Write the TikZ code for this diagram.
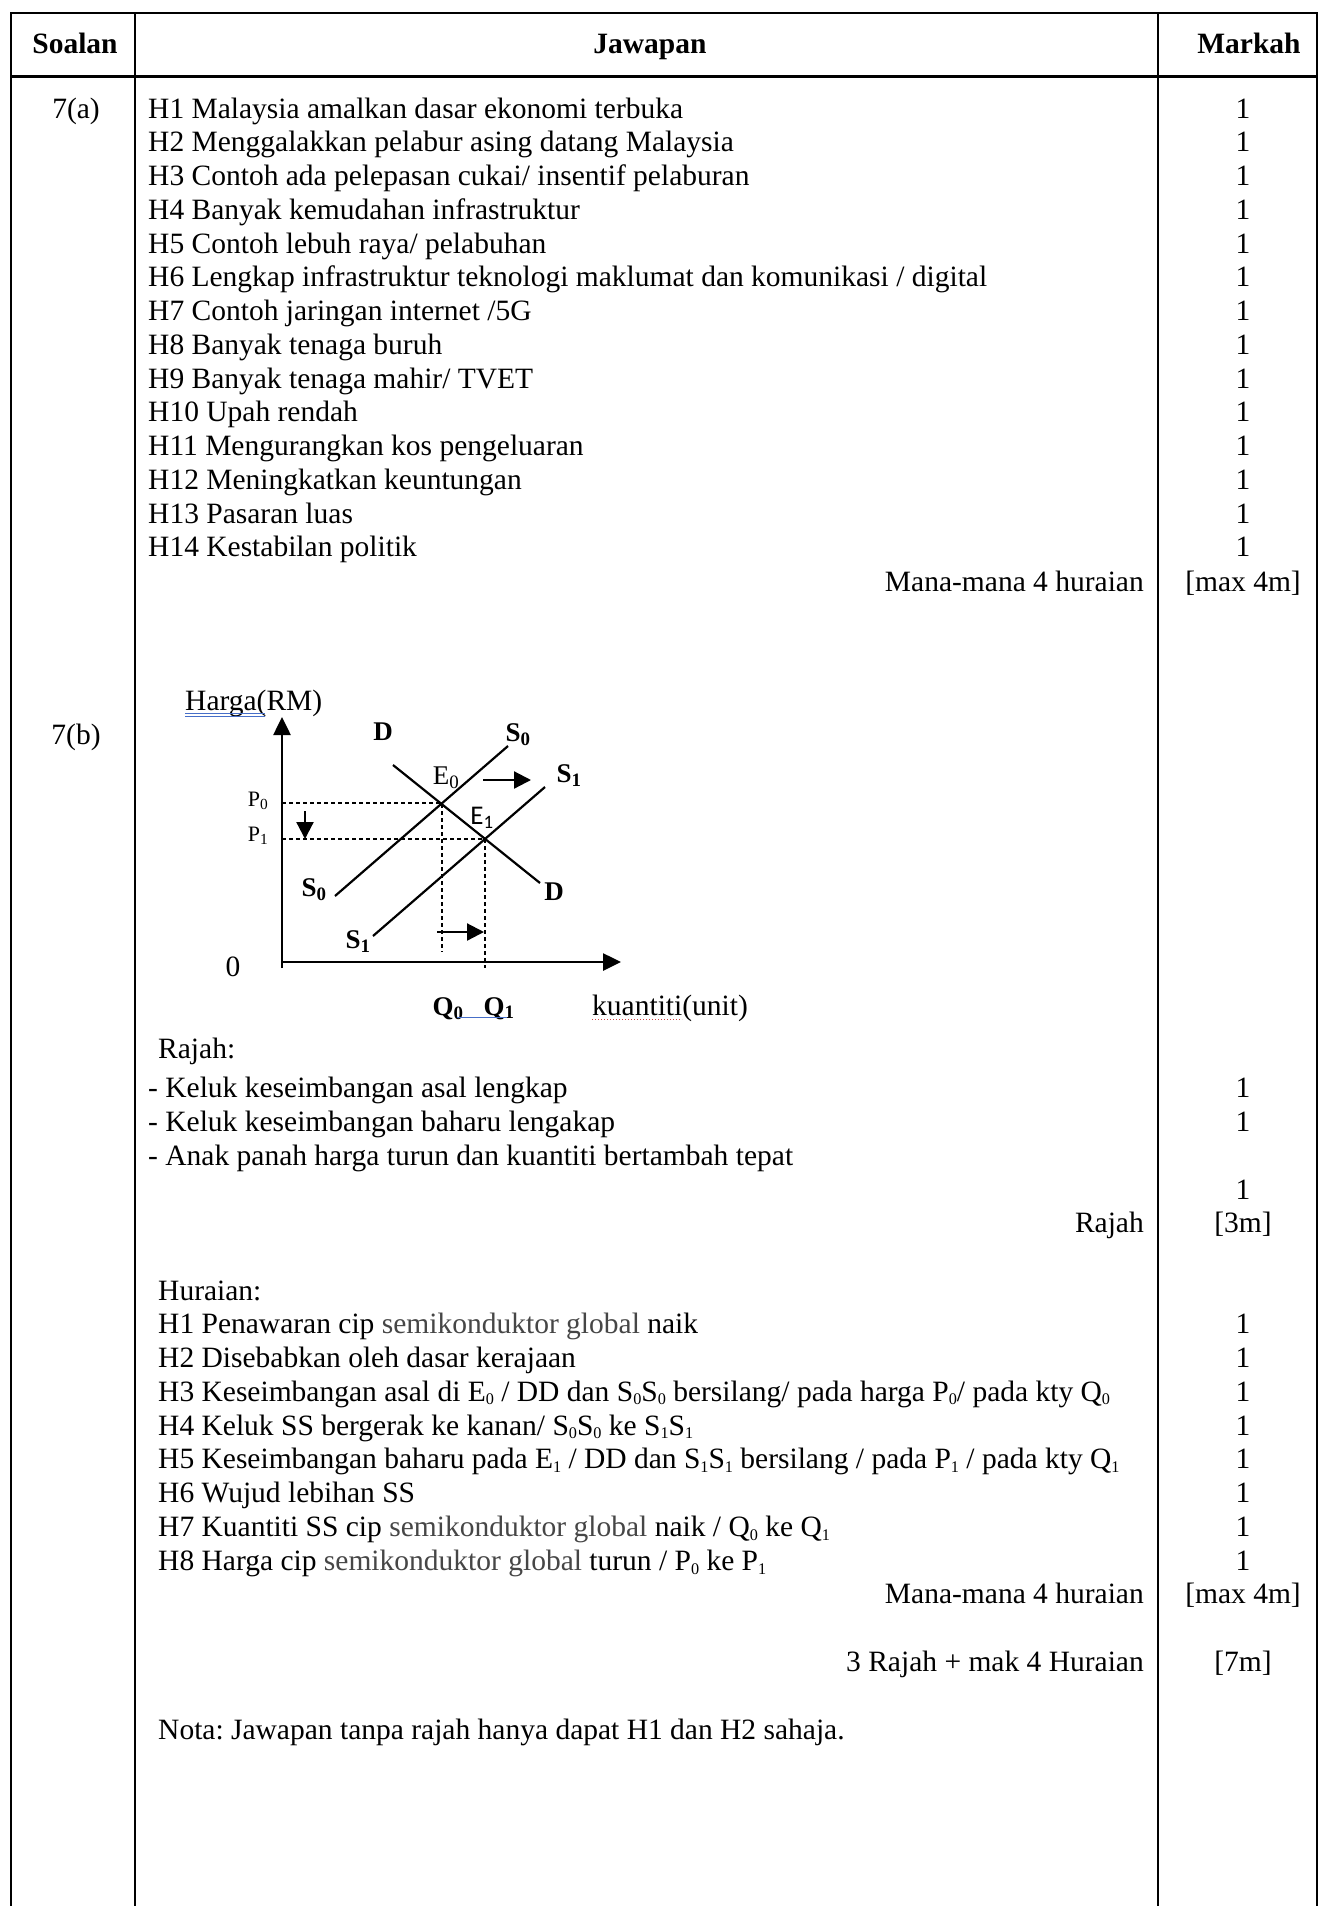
\documentclass[tikz,border=0pt]{standalone}
\usepackage{fontspec}
\usepackage{graphicx}
\setmainfont{Liberation Serif}
\newfontfamily\calibri{Carlito}
\usetikzlibrary{arrows.meta}
\frenchspacing

\definecolor{greytext}{RGB}{70,70,70}
\definecolor{proofblue}{RGB}{70,110,200}
\definecolor{proofred}{RGB}{205,70,70}
\newcommand{\subn}[1]{\textsubscript{#1}}
\newcommand{\lowsub}[1]{\raisebox{-0.12em}{\scalebox{0.55}{#1}}}
\newcommand{\semi}{\textcolor{greytext}{semikonduktor global}}

\begin{document}
\begin{tikzpicture}[x=1pt,y=-1pt,
	txt/.style={font=\fontsize{29.5}{34}\selectfont, inner sep=0pt},
	head/.style={font=\fontsize{29.5}{34}\selectfont\bfseries, inner sep=0pt},
	lbl/.style={font=\fontsize{27}{30}\selectfont\bfseries, inner sep=0pt},
	small/.style={font=\fontsize{22}{26}\selectfont, inner sep=0pt},
	rule/.style={line width=2.2pt},
	curve/.style={line width=2.2pt},
	axis/.style={line width=2.6pt, -{Triangle[length=18pt,width=17pt]}},
	guide/.style={line width=1.1pt, dash pattern=on 4pt off 3pt},
	shift arrow/.style={line width=2.2pt, -{Triangle[length=17pt,width=17pt]}}]

	\fill[white] (0,0) rectangle (1320,1906);
	\useasboundingbox (0,0) rectangle (1320,1906);

	% table frame
	\draw[rule] (11,1906) -- (11,13) -- (1317,13) -- (1317,1906);
	\draw[rule] (135,13) -- (135,1906);
	\draw[rule] (1158,13) -- (1158,1906);
	\draw[line width=3pt] (11,76) -- (1317,76);

	\node[head, anchor=base] (soalan) at (75,53.5) {Soalan};
	\node[head, anchor=base] (jawapan) at (650,53.5) {Jawapan};
	\node[head, anchor=base] (markah) at (1249,53.5) {Markah};

	% 7(a)
	\node[txt, anchor=base] (q7a) at (76,118) {7(a)};
	\foreach \t [count=\i] in {
		{H1 Malaysia amalkan dasar ekonomi terbuka},
		{H2 Menggalakkan pelabur asing datang Malaysia},
		{H3 Contoh ada pelepasan cukai/ insentif pelaburan},
		{H4 Banyak kemudahan infrastruktur},
		{H5 Contoh lebuh raya/ pelabuhan},
		{H6 Lengkap infrastruktur teknologi maklumat dan komunikasi / digital},
		{H7 Contoh jaringan internet /5G},
		{H8 Banyak tenaga buruh},
		{H9 Banyak tenaga mahir/ TVET},
		{H10 Upah rendah},
		{H11 Mengurangkan kos pengeluaran},
		{H12 Meningkatkan keuntungan},
		{H13 Pasaran luas},
		{H14 Kestabilan politik}}{
		\node[txt, anchor=base west] (a\i) at (148,{84.25+33.75*\i}) {\t};
		\node[txt, anchor=base] (ma\i) at (1243,{84.25+33.75*\i}) {1};
	}
	\node[txt, anchor=base east] (anyA) at (1144,591) {Mana-mana 4 huraian};
	\node[txt, anchor=base] (maxA) at (1243,591) {[max 4m]};

	% 7(b)
	\node[txt, anchor=base] (q7b) at (76,744.5) {7(b)};

	% diagram
	\coordinate (E0) at (442,803);
	\coordinate (E1) at (485,839);
	\coordinate (ybot) at (282,968);
	\coordinate (ytop) at (282,717);
	\coordinate (xbeg) at (281,962);
	\coordinate (xend) at (621,962);
	\draw[axis] (ybot) -- (ytop);
	\draw[axis] (xbeg) -- (xend);

	\coordinate (Da) at (393,765);
	\coordinate (Db) at (540,883);
	\coordinate (S0a) at (335,896);
	\coordinate (S0b) at (508,746);
	\coordinate (S1a) at (373,936);
	\coordinate (S1b) at (545,787);
	\draw[curve] (Da) -- (Db);
	\draw[curve] (S0a) -- (S0b);
	\draw[curve] (S1a) -- (S1b);

	\coordinate (P0y) at (282,803);
	\coordinate (P1y) at (282,839);
	\coordinate (Q0x) at (442,952);
	\coordinate (Q1x) at (485,968);
	\draw[guide] (P0y) -- (E0) -- (Q0x);
	\draw[guide] (P1y) -- (E1) -- (Q1x);

	\coordinate (supA) at (483,780);
	\coordinate (supB) at (531,780);
	\coordinate (prA) at (305,811);
	\coordinate (prB) at (305,839);
	\coordinate (qtyA) at (437,932);
	\coordinate (qtyB) at (484,932);
	\draw[shift arrow] (supA) -- (supB);
	\draw[shift arrow] (prA) -- (prB);
	\draw[shift arrow] (qtyA) -- (qtyB);

	\node[txt, anchor=base west] (harga) at (185,710) {Harga(RM)};
	\draw[proofblue, line width=0.8pt] (185,713.5) -- (265,713.5) (185,716.5) -- (265,716.5);
	\node[lbl] (Dtop) at (383,732) {D};
	\node[lbl] (S0top) at (518,735) {S\subn{0}};
	\node[lbl] (S1top) at (569,776) {S\subn{1}};
	\node[lbl] (Dbot) at (554,892) {D};
	\node[lbl] (S0bot) at (314,890) {S\subn{0}};
	\node[lbl] (S1bot) at (358,942) {S\subn{1}};
	\node[font=\fontsize{27}{30}\selectfont, inner sep=0pt] (E0lbl) at (446,778) {E\subn{0}};
	\node[font=\fontsize{27}{30}\selectfont\calibri, inner sep=0pt] (E1lbl) at (482,818) {E\subn{1}};
	\node[small] (P0lbl) at (258,801) {P\subn{0}};
	\node[small] (P1lbl) at (258,836) {P\subn{1}};
	\node[txt] (zero) at (233,967) {0};
	\node[lbl, anchor=base] (Q0lbl) at (448,1015) {Q\subn{0}};
	\node[lbl, anchor=base] (Q1lbl) at (499,1015) {Q\subn{1}};
	\draw[proofblue, line width=0.8pt] (457,1017) -- (507,1017);
	\node[txt, anchor=base west] (kuantiti) at (592,1015) {kuantiti(unit)};
	\draw[proofred, line width=0.9pt, dash pattern=on 1pt off 2pt] (592,1019) -- (682,1019);

	% rajah
	\node[txt, anchor=base west] (rajah) at (158,1058) {Rajah:};
	\node[txt, anchor=base west] (r1) at (148,1097.5) {- Keluk keseimbangan asal lengkap};
	\node[txt, anchor=base west] (r2) at (148,1131.5) {- Keluk keseimbangan baharu lengakap};
	\node[txt, anchor=base west] (r3) at (148,1165) {- Anak panah harga turun dan kuantiti bertambah tepat};
	\node[txt, anchor=base] (mr1) at (1243,1097.5) {1};
	\node[txt, anchor=base] (mr2) at (1243,1131.5) {1};
	\node[txt, anchor=base] (mr3) at (1243,1199) {1};
	\node[txt, anchor=base east] (rajahT) at (1144,1232.5) {Rajah};
	\node[txt, anchor=base] (maxR) at (1243,1232.5) {[3m]};

	% huraian
	\node[txt, anchor=base west] (huraian) at (158,1300.5) {Huraian:};
	\foreach \t [count=\i] in {
		{H1 Penawaran cip \semi\ naik},
		{H2 Disebabkan oleh dasar kerajaan},
		{H3 Keseimbangan asal di E\lowsub{0} / DD dan S\lowsub{0}S\lowsub{0} bersilang/ pada harga P\lowsub{0}/ pada kty Q\lowsub{0}},
		{H4 Keluk SS bergerak ke kanan/ S\lowsub{0}S\lowsub{0} ke S\lowsub{1}S\lowsub{1}},
		{H5 Keseimbangan baharu pada E\lowsub{1} / DD dan S\lowsub{1}S\lowsub{1} bersilang / pada P\lowsub{1} / pada kty Q\lowsub{1}},
		{H6 Wujud lebihan SS},
		{H7 Kuantiti SS cip \semi\ naik / Q\lowsub{0} ke Q\lowsub{1}},
		{H8 Harga cip \semi\ turun / P\lowsub{0} ke P\lowsub{1}}}{
		\node[txt, anchor=base west] (b\i) at (158,{1299.65+33.85*\i}) {\t};
		\node[txt, anchor=base] (mb\i) at (1243,{1299.65+33.85*\i}) {1};
	}
	\node[txt, anchor=base east] (anyB) at (1144,1603.5) {Mana-mana 4 huraian};
	\node[txt, anchor=base] (maxB) at (1243,1603.5) {[max 4m]};
	\node[txt, anchor=base east] (total) at (1144,1671.5) {3 Rajah + mak 4 Huraian};
	\node[txt, anchor=base] (maxT) at (1243,1671.5) {[7m]};

	\node[txt, anchor=base west] (nota) at (158,1739.5) {Nota: Jawapan tanpa rajah hanya dapat H1 dan H2 sahaja.};

\end{tikzpicture}
\end{document}
